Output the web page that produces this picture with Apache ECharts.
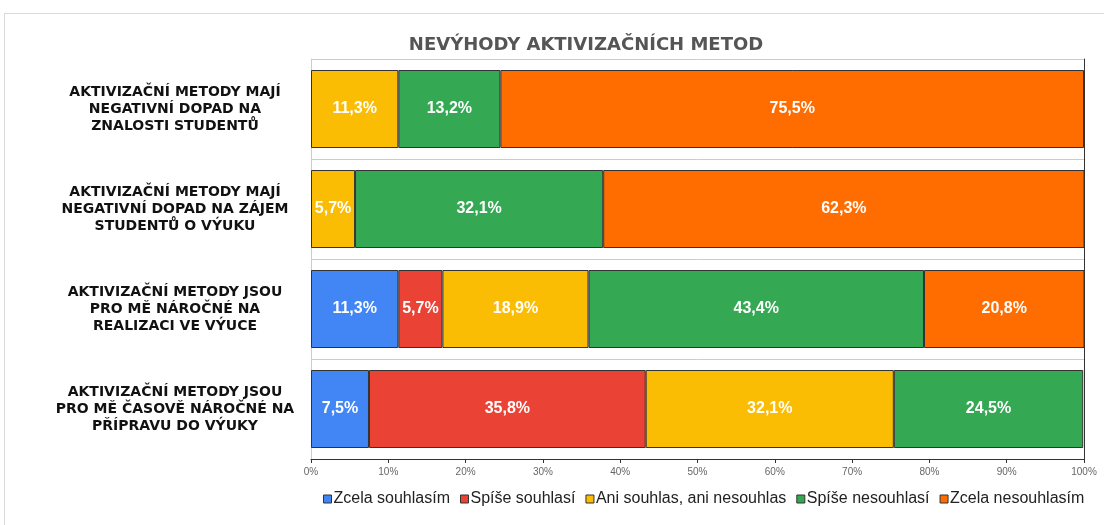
<html>
<head>
<meta charset="utf-8">
<script src="https://cdn.jsdelivr.net/npm/echarts@6/dist/echarts.min.js"></script>
</head>
<body>
<style>
html, body { margin: 0; width: 100%; height: 100%; background: #fff; }
#frame { position: absolute; left: 4px; top: 13px; width: 1110px; height: 520px; border: 1px solid #d9d9d9; box-sizing: border-box; }
#main { position: absolute; left: 0; top: 0; width: 1104px; height: 525px; }
</style>
<div id="frame"></div>
<div id="main"></div>
<script>
var categories = [
    'AKTIVIZAČNÍ METODY MAJÍ\nNEGATIVNÍ DOPAD NA\nZNALOSTI STUDENTŮ',
    'AKTIVIZAČNÍ METODY MAJÍ\nNEGATIVNÍ DOPAD NA ZÁJEM\nSTUDENTŮ O VÝUKU',
    'AKTIVIZAČNÍ METODY JSOU\nPRO MĚ NÁROČNÉ NA\nREALIZACI VE VÝUCE',
    'AKTIVIZAČNÍ METODY JSOU\nPRO MĚ ČASOVĚ NÁROČNÉ NA\nPŘÍPRAVU DO VÝUKY'
];
var seriesNames = ['Zcela souhlasím', 'Spíše souhlasí', 'Ani souhlas, ani nesouhlas', 'Spíše nesouhlasí', 'Zcela nesouhlasím'];
var colors = ['#4285F4', '#EA4335', '#FBBC04', '#34A853', '#FF6D01'];
var zcelaSouhlasim = [0, 0, 11.3, 7.5];
var spiseSouhlasi = [0, 0, 5.7, 35.8];
var aniAni = [11.3, 5.7, 18.9, 32.1];
var spiseNesouhlasi = [13.2, 32.1, 43.4, 24.5];
var zcelaNesouhlasim = [75.5, 62.3, 20.8, 0];

var values = [zcelaSouhlasim, spiseSouhlasi, aniAni, spiseNesouhlasi, zcelaNesouhlasim];
var series = [];
for (var i = 0; i < seriesNames.length; i++) {
    series.push({
        name: seriesNames[i],
        type: 'bar',
        stack: 'all',
        barCategoryGap: '22%',
        itemStyle: { color: colors[i], borderColor: '#333', borderWidth: 1 },
        label: {
            show: true,
            color: '#fff',
            fontWeight: 'bold',
            fontSize: 16,
            fontFamily: 'Liberation Sans',
            formatter: function (p) {
                return p.value > 0 ? p.value.toFixed(1).replace('.', ',') + '%' : '';
            }
        },
        data: values[i].map(function (v) { return v > 0 ? v : null; })
    });
}

var chart = echarts.init(document.getElementById('main'));
var option = {
    animation: false,
    title: {
        text: 'NEVÝHODY AKTIVIZAČNÍCH METOD',
        left: 581, top: 31, textAlign: 'center',
        textStyle: { color: '#555', fontSize: 18, fontWeight: 'bold', fontFamily: 'DejaVu Sans' }
    },
    legend: {
        top: 486, left: 318,
        itemWidth: 8, itemHeight: 8, itemGap: 10,
        icon: 'rect',
        itemStyle: { borderColor: '#333', borderWidth: 1 },
        textStyle: { color: '#222', fontSize: 16, fontFamily: 'Liberation Sans', padding: [0, 0, 0, -3] },
        data: seriesNames
    },
    grid: { left: 311, right: 20, top: 59, bottom: 66 },
    xAxis: {
        type: 'value', min: 0, max: 100, interval: 10,
        axisLine: { show: true, lineStyle: { color: '#333' } },
        axisTick: { show: true, length: 4, lineStyle: { color: '#333' } },
        axisLabel: { color: '#666', fontSize: 10, fontFamily: 'Liberation Sans', formatter: '{value}%' },
        splitLine: { show: false }
    },
    yAxis: [{
        type: 'category', inverse: true, data: categories,
        axisLine: { show: true, lineStyle: { color: '#ccc' } },
        axisTick: { show: false },
        splitLine: { show: true, lineStyle: { color: '#ccc' } },
        axisLabel: {
            color: '#111', fontWeight: 'bold', fontSize: 14, fontFamily: 'DejaVu Sans',
            align: 'center', margin: 136, lineHeight: 17
        }
    }, {
        type: 'category', inverse: true, data: categories, position: 'right',
        axisLine: { show: true, lineStyle: { color: '#333' } },
        axisTick: { show: false }, axisLabel: { show: false }
    }],
    series: series
};
chart.setOption(option);
</script>
</body>
</html>
